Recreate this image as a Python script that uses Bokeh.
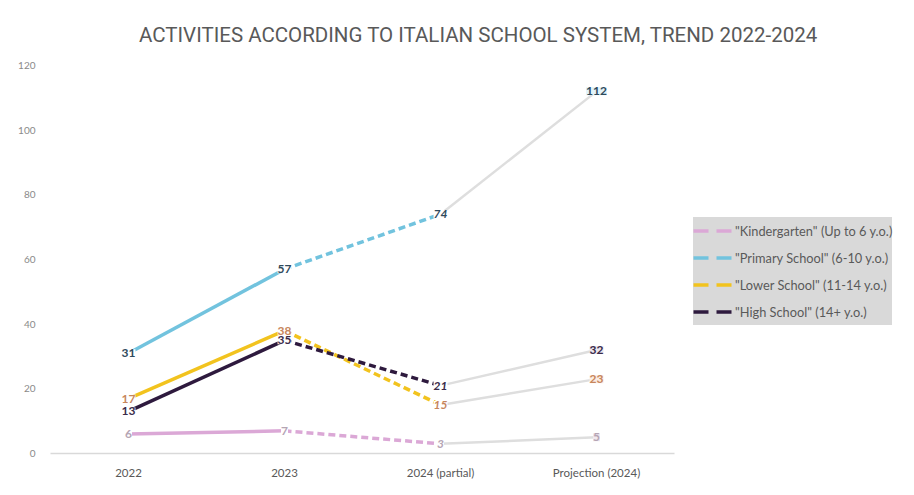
from bokeh.plotting import figure
from bokeh.models import Range1d, FixedTicker, ColumnDataSource, LabelSet, Legend, LegendItem
from bokeh.embed import file_html
from bokeh.resources import INLINE
from bokeh.core.properties import value

categories = ["2022", "2023", "2024 (partial)", "Projection (2024)"]
series_names = ['"Kindergarten" (Up to 6 y.o.)', '"Primary School" (6-10 y.o.)',
                '"Lower School" (11-14 y.o.)', '"High School" (14+ y.o.)']
kindergarten = [6, 7, 3, 5]
primary = [31, 57, 74, 112]
lower = [17, 38, 15, 23]
high = [13, 35, 21, 32]
y_ticks = [0, 20, 40, 60, 80, 100, 120]

line_colors = ["#dba8d6", "#72c3de", "#f2c31e", "#2e1a3e"]
label_colors = ["#b5a5b4", "#2f4a5c", "#c7865c", "#3a2b4a"]
proj_bg = ["#f1e9ef", "#e3f3f9", "#fcede3", "#ece7ee"]
all_series = [kindergarten, primary, lower, high]

xs = list(range(len(categories)))

p = figure(width=906, height=488, output_backend="svg", toolbar_location=None,
           x_range=Range1d(-0.5, 4.987), y_range=Range1d(0, 120),
           min_border_left=50, min_border_right=0, min_border_top=65, min_border_bottom=35)
p.outline_line_color = None
p.xgrid.visible = False
p.ygrid.visible = False

p.title.text = "ACTIVITIES ACCORDING TO ITALIAN SCHOOL SYSTEM, TREND 2022-2024"
p.title.align = "center"
p.title.text_font = "Roboto"
p.title.text_font_size = "20.5px"
p.title.text_font_style = "normal"
p.title.text_color = "#595959"
p.title.standoff = 38

p.xaxis.ticker = FixedTicker(ticks=xs)
p.xaxis.major_label_overrides = {i: c for i, c in enumerate(categories)}
p.xaxis.bounds = (-0.5, 3.5)
p.xaxis.axis_line_color = "#d9d9d9"
p.xaxis.axis_line_width = 1.5
p.xaxis.major_tick_line_color = None
p.xaxis.minor_tick_line_color = None
p.xaxis.major_label_text_font = "Lato"
p.xaxis.major_label_text_font_size = "11.5px"
p.xaxis.major_label_text_color = "#595959"
p.xaxis.major_label_standoff = 6

p.yaxis.ticker = FixedTicker(ticks=y_ticks)
p.yaxis.axis_line_color = None
p.yaxis.major_tick_line_color = None
p.yaxis.minor_tick_line_color = None
p.yaxis.major_label_text_font = "Lato"
p.yaxis.major_label_text_font_size = "10px"
p.yaxis.major_label_text_color = "#8a8a8a"
p.yaxis.major_label_standoff = 9

# projection segments (gray)
for s in all_series:
    p.line(xs[2:4], s[2:4], line_color="#dedede", line_width=2.5)

nan = float("nan")
legend_items = []
for s, c, name in zip(all_series, line_colors, series_names):
    p.line(xs[0:2], s[0:2], line_color=c, line_width=3.5)
    p.line(xs[1:3], s[1:3], line_color=c, line_width=3.5, line_dash="7 4")
    lr = p.line([nan], [nan], line_color=c, line_width=3.5, line_dash="15 8")
    legend_items.append(LegendItem(label=name, renderers=[lr]))

# data labels
lx, ly, lt, lc, lb, ls = [], [], [], [], [], []
for s, col, bg in zip(all_series, label_colors, proj_bg):
    for i, v in enumerate(s):
        lx.append(xs[i]); ly.append(v); lt.append(str(v)); lc.append(col)
        lb.append(bg if i == 3 else "#ffffff")
        ls.append("bold italic" if i == 2 else "bold")
src = ColumnDataSource(dict(x=lx, y=ly, text=lt, color=lc, bg=lb, style=ls))
labels = LabelSet(x="x", y="y", text="text", source=src, text_align="center",
                  text_baseline="middle", text_color="color", text_font=value("Lato"),
                  text_font_size="12px", text_font_style="style",
                  background_fill_color="bg")
p.add_layout(labels)

legend = Legend(items=legend_items, location=(643, 128))
legend.background_fill_color = "#d9d9d9"
legend.background_fill_alpha = 1
legend.border_line_color = None
legend.label_text_font = "Lato"
legend.label_text_font_size = "12.8px"
legend.label_text_color = "#595959"
legend.glyph_width = 40
legend.glyph_height = 27
legend.label_height = 27
legend.label_standoff = 2
legend.spacing = 0
legend.padding = 4
legend.margin = 0
p.add_layout(legend)

open("out.html", "w").write(file_html(p, INLINE))
